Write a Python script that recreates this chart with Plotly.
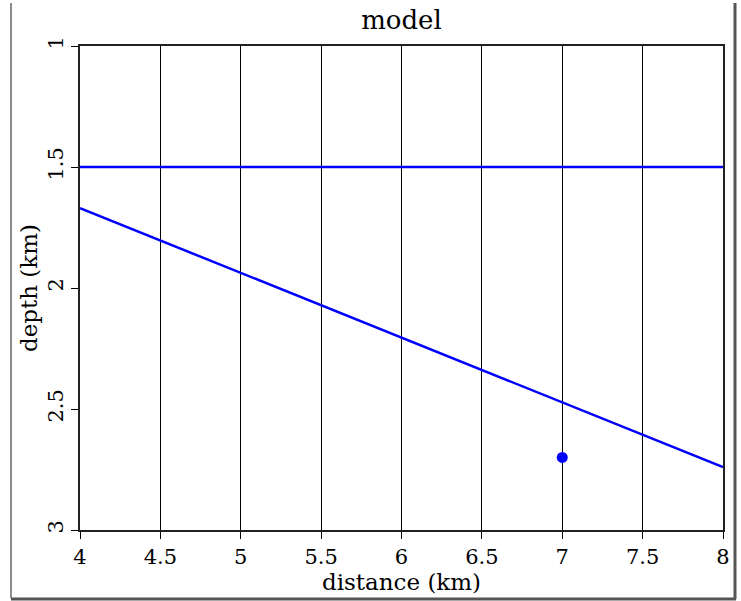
import plotly.graph_objects as go

# Data
flat_x = [4.0, 8.0]
flat_z = [1.5, 1.5]
dip_x = [4.0, 8.0]
dip_z = [1.67, 2.74]
point_x = [7.0]
point_z = [2.7]
x_ticks = [4, 4.5, 5, 5.5, 6, 6.5, 7, 7.5, 8]
x_tick_text = ["4", "4.5", "5", "5.5", "6", "6.5", "7", "7.5", "8"]
z_ticks = [1, 1.5, 2, 2.5, 3]
z_tick_text = ["1", "1.5", "2", "2.5", "3"]

FONT = "DejaVu Serif"
W, H = 741, 601
L, R, T, B = 80, 18, 46, 71

fig = go.Figure()
fig.add_trace(go.Scatter(x=flat_x, y=flat_z, mode="lines",
                         line=dict(color="#0000ff", width=2.5), showlegend=False))
fig.add_trace(go.Scatter(x=dip_x, y=dip_z, mode="lines",
                         line=dict(color="#0000ff", width=2.5), showlegend=False))
fig.add_trace(go.Scatter(x=point_x, y=point_z, mode="markers",
                         marker=dict(color="#0000ff", size=11), showlegend=False))

pw = W - L - R
ph = H - T - B
def px2paper_x(p):
    return (p - L) / pw
def py2paper_y(p):
    return (H - B - p) / ph

# outer frame
fig.add_shape(type="line", xref="paper", yref="paper",
              x0=px2paper_x(11), x1=px2paper_x(11), y0=py2paper_y(3), y1=py2paper_y(598),
              line=dict(color="#666666", width=1.5))
fig.add_shape(type="line", xref="paper", yref="paper",
              x0=px2paper_x(735), x1=px2paper_x(735), y0=py2paper_y(3), y1=py2paper_y(599),
              line=dict(color="#555555", width=3))
fig.add_shape(type="line", xref="paper", yref="paper",
              x0=px2paper_x(11), x1=px2paper_x(736), y0=py2paper_y(599), y1=py2paper_y(599),
              line=dict(color="#555555", width=3))

fig.update_layout(
    width=W, height=H,
    margin=dict(l=L, r=R, t=T, b=B),
    paper_bgcolor="white", plot_bgcolor="white",
    title=dict(text="model", x=(L + pw / 2) / W, xanchor="center",
               y=1 - 20 / H, yanchor="middle",
               font=dict(family=FONT, size=26, color="black")),
    font=dict(family=FONT, color="black"),
)
fig.update_xaxes(
    range=[4, 8], tickvals=x_ticks, ticktext=x_tick_text,
    showgrid=True, gridcolor="black", gridwidth=1,
    showline=True, linecolor="#222222", linewidth=1.5, mirror=True,
    ticks="outside", ticklen=7, tickcolor="black",
    tickfont=dict(family=FONT, size=21, color="black"),
    title=dict(text="distance (km)", standoff=0,
               font=dict(family=FONT, size=23, color="black")),
    zeroline=False,
)
fig.update_yaxes(
    range=[3, 1], tickvals=z_ticks, ticktext=z_tick_text,
    showgrid=False,
    showline=True, linecolor="#222222", linewidth=1.5, mirror=True,
    ticks="outside", ticklen=7, tickcolor="black", tickangle=-90,
    tickfont=dict(family=FONT, size=21, color="black"),
    title=dict(text="depth (km)", standoff=0,
               font=dict(family=FONT, size=23, color="black")),
    zeroline=False,
)

fig.write_html("out.html", config={"displayModeBar": False},
               post_script="document.body.style.margin='0px';")
